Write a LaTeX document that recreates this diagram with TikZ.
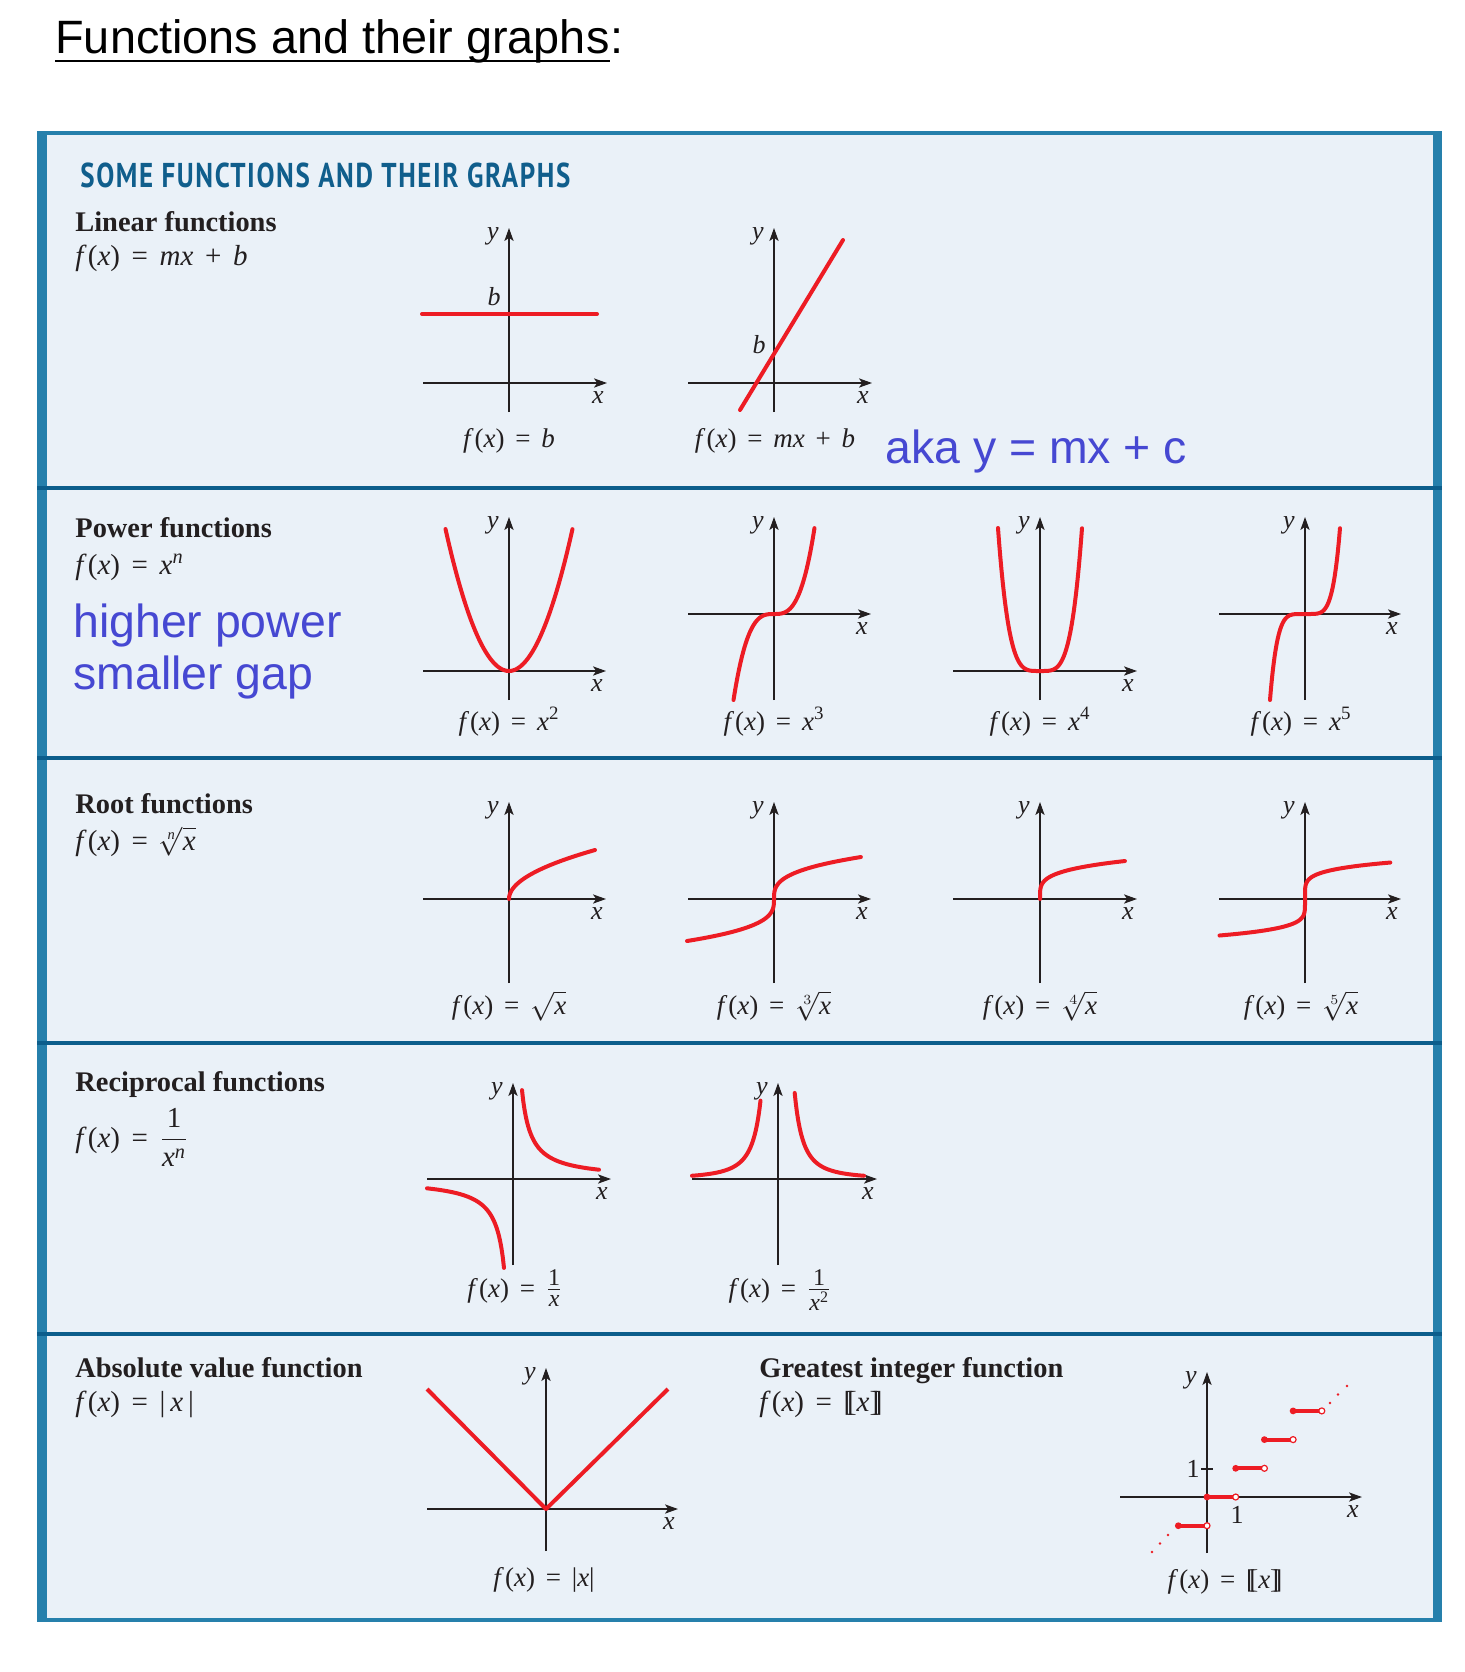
\documentclass[tikz,border=0pt]{standalone}
\usepackage{amsmath}
\usepackage{graphicx}
\usepackage{fontspec}
\setmainfont{Liberation Serif}
\newfontfamily\arialf{Liberation Sans}
\newfontfamily\ptsans[LetterSpace=6]{PT Sans}
\usetikzlibrary{arrows.meta}
\definecolor{boxblue}{RGB}{38,128,172}
\definecolor{sepblue}{RGB}{12,94,140}
\definecolor{boxfill}{RGB}{234,241,248}
\definecolor{headblue}{RGB}{16,94,140}
\definecolor{fred}{RGB}{237,28,36}
\definecolor{noteblue}{RGB}{70,72,210}
\definecolor{ink}{RGB}{35,31,32}
\newcommand\fxx{\textit{f}\kern0.04em(\textit{x})}
\newcommand\eqq{\hspace{0.4em}=\hspace{0.4em}}
\newcommand\pluss{\hspace{0.4em}+\hspace{0.4em}}
\newcommand\dbr[1]{[\kern-0.22em[#1]\kern-0.22em]}
\newcommand\smfr[2]{$\frac{\hbox{\fontsize{12}{13}\selectfont #1}}{\hbox{\fontsize{12}{13}\selectfont #2}}$}
\newcommand\hdfont{\fontsize{14.2}{17}\selectfont\bfseries}
\newcommand\fmfont{\fontsize{14.5}{17}\selectfont}
\newcommand\capfont{\fontsize{13.5}{16}\selectfont}
\newcommand\lblfont{\fontsize{13}{15}\selectfont\itshape}
\newcommand\notefont{\arialf\fontsize{23.2}{27}\selectfont}
\newcommand\graxes[7]{%
  \draw[axis] (#4,#3) -- (#5,#3);
  \draw[axis] (#2,#7) -- (#2,#6);
  \node[lbl] (#1x) at (#5-9,#3+20) {x};
  \node[lbl] (#1y) at (#2-16,#6+11) {y};
}
\tikzset{
  axis/.style={line width=0.6pt, draw=ink, -{Stealth[length=6.5pt,width=4.6pt,inset=1.6pt]}},
  curve/.style={line width=2pt, draw=fred, line cap=round, line join=round},
  lbl/.style={font=\lblfont, text=ink, inner sep=0pt, anchor=base},
  capt/.style={font=\capfont, text=ink, inner sep=0pt, anchor=base},
  hd/.style={font=\hdfont, text=ink, inner sep=0pt, anchor=base west},
  fm/.style={font=\fmfont, text=ink, inner sep=0pt, anchor=base west},
  note/.style={font=\notefont, text=noteblue, inner sep=0pt, anchor=base west},
}
\begin{document}
\begin{tikzpicture}[x=0.5pt, y=-0.5pt]
\useasboundingbox (0,0) rectangle (1464,1672);
\fill[white] (0,0) rectangle (1464,1672);
% title
\node[anchor=base west, inner sep=0pt, font=\arialf\fontsize{23.4}{28}\selectfont] (title) at (55,53) {Functions and their graphs};
\node[anchor=base west, inner sep=0pt, font=\arialf\fontsize{23.4}{28}\selectfont] (colon) at (title.base east) {:};
\draw[line width=1.3pt] ([yshift=-4pt]title.base west) -- ([yshift=-4pt]title.base east);
% frame
\fill[boxblue] (37,131) rectangle (1442,1622);
\fill[boxfill] (47,135) rectangle (1433,1618);
\foreach \yy in {488,758,1043,1334} \draw[sepblue, line width=2pt] (37,\yy) -- (1442,\yy);
\node[anchor=base west, inner sep=0pt, text=headblue] (boxtitle) at (80,187) {\resizebox{245pt}{12.3pt}{\ptsans\bfseries SOME FUNCTIONS AND THEIR GRAPHS}};
% headers
\node[hd] (h1) at (75,231) {Linear functions};
\node[fm] (f1) at (75,265) {\fxx\eqq\textit{mx}\pluss\textit{b}};
\node[note] (n1) at (885,463) {aka y = mx + c};
\node[hd] (h2) at (75,537) {Power functions};
\node[fm] (f2) at (75,574) {\fxx\eqq\textit{x}\textsuperscript{\textit{n}}};
\node[note] (n2) at (73,637) {higher power};
\node[note] (n3) at (73,689) {smaller gap};
\node[hd] (h3) at (75,813) {Root functions};
\node[fm] (f3) at (75,850) {\fxx\eqq$\sqrt[\textit{n}]{\textit{x}}$};
\node[hd] (h4) at (75,1091) {Reciprocal functions};
\node[fm] (f4) at (75,1147) {\fxx\eqq$\dfrac{\text{1}}{\textit{x}^{\textit{n}}}$};
\node[hd] (h5) at (75,1377) {Absolute value function};
\node[fm] (f5) at (75,1411) {\fxx\eqq|\,\textit{x}\,|};
\node[hd] (h6) at (759,1377) {Greatest integer function};
\node[fm] (f6) at (759,1411) {\fxx\eqq\dbr{\textit{x}}};
% row 1
\graxes{la}{509}{383}{423}{607}{228}{412}
\draw[curve] (422,314) -- (597,314);
\node[lbl] (lab) at (494,305) {b};
\node[capt] (lac) at (509,447) {\fxx\eqq\textit{b}};
\graxes{lb}{774}{383}{688}{872}{228}{412}
\draw[curve] (740,410) -- (843,240);
\node[lbl] (lbb) at (759,353) {b};
\node[capt] (lbc) at (775,447) {\fxx\eqq\textit{mx}\pluss\textit{b}};
% row 2
\graxes{pa}{509}{671}{423}{606}{517}{700}
\draw[curve] plot[domain=-1:1, samples=61, smooth, variable=\t] ({509+63.5*\t},{671-142*\t*\t});
\node[capt] (pac) at (509,730) {\fxx\eqq\textit{x}\textsuperscript{2}};
\graxes{pb}{774}{614}{688}{871}{517}{700}
\draw[curve] plot[domain=-1:1, samples=61, smooth, variable=\t] ({774+40.5*\t},{614-86*\t*\t*\t});
\node[capt] (pbc) at (774,730) {\fxx\eqq\textit{x}\textsuperscript{3}};
\graxes{pc}{1040}{671}{953}{1137}{517}{700}
\draw[curve] plot[domain=-1:1, samples=81, smooth, variable=\t] ({1040+42*\t},{671-143*\t*\t*\t*\t});
\node[capt] (pcc) at (1040,730) {\fxx\eqq\textit{x}\textsuperscript{4}};
\graxes{pd}{1305}{614}{1219}{1401}{517}{700}
\draw[curve] plot[domain=-1:1, samples=81, smooth, variable=\t] ({1305+35*\t},{614-86*\t*\t*\t*\t*\t});
\node[capt] (pdc) at (1301,730) {\fxx\eqq\textit{x}\textsuperscript{5}};
% row 3
\graxes{ra}{509}{899}{423}{606}{802}{983}
\draw[curve] plot[domain=0:1, samples=41, smooth, variable=\t] ({509+86*\t*\t},{899-49*\t});
\node[capt] (rac) at (509,1014) {\fxx\eqq$\sqrt{\textit{x}}$};
\graxes{rb}{774}{899}{688}{871}{802}{983}
\draw[curve] plot[domain=-1:1, samples=61, smooth, variable=\t] ({774+87*\t*\t*\t},{899-42*\t});
\node[capt] (rbc) at (774,1014) {\fxx\eqq$\sqrt[3]{\textit{x}}$};
\graxes{rc}{1040}{899}{953}{1137}{802}{983}
\draw[curve] plot[domain=0:1, samples=41, smooth, variable=\t] ({1040+85*\t*\t*\t*\t},{899-38*\t});
\node[capt] (rcc) at (1040,1014) {\fxx\eqq$\sqrt[4]{\textit{x}}$};
\graxes{rd}{1305}{899}{1219}{1401}{802}{983}
\draw[curve] plot[domain=-1:1, samples=81, smooth, variable=\t] ({1305+85.5*\t*\t*\t*\t*\t},{899-36.5*\t});
\node[capt] (rdc) at (1301,1014) {\fxx\eqq$\sqrt[5]{\textit{x}}$};
% row 4
\graxes{ca}{513}{1179}{427}{611}{1083}{1265}
\draw[curve] plot[domain=9:86, samples=60, smooth, variable=\t] ({513+\t},{1179-800/\t});
\draw[curve] plot[domain=9:86, samples=60, smooth, variable=\t] ({513-\t},{1179+800/\t});
\node[capt] (cac) at (515,1297) {\fxx\eqq\smfr{1}{\textit{x}}};
\graxes{cb}{778}{1179}{692}{877}{1083}{1265}
\draw[curve] plot[domain=16.7:86, samples=60, smooth, variable=\t] ({778+\t},{1179-240/((\t/10)*(\t/10))});
\draw[curve] plot[domain=17.5:86, samples=60, smooth, variable=\t] ({778-\t},{1179-240/((\t/10)*(\t/10))});
\node[capt] (cbc) at (780,1297) {\fxx\eqq\smfr{1}{\textit{x}\textsuperscript{2}}};
% row 5
\graxes{aa}{546}{1509}{427}{678}{1368}{1551}
\draw[curve, line cap=butt] (427,1389) -- (546,1509) -- (668,1389);
\node[capt] (aac) at (544,1586) {\fxx\eqq|\textit{x}|};
\graxes{ga}{1207}{1497}{1120}{1362}{1372}{1553}
\draw[line width=0.6pt, draw=ink] (1201,1469) -- (1213,1469);
\node[capt, font=\fontsize{13}{15}\selectfont] (g1y) at (1193,1477) {1};
\node[capt, font=\fontsize{13}{15}\selectfont] (g1x) at (1237,1523) {1};
\foreach \k in {-1,...,3} {
  \draw[curve, line cap=butt] ({1207+28.7*\k},{1497-28.7*\k}) -- ({1207+28.7*(\k+1)},{1497-28.7*\k});
  \fill[fred] ({1207+28.7*\k},{1497-28.7*\k}) circle[radius=1.7pt];
  \draw[fred, fill=white, line width=0.6pt] ({1207+28.7*(\k+1)},{1497-28.7*\k}) circle[radius=1.5pt];
}
\foreach \px/\py in {1330/1403, 1338/1394.5, 1347/1386, 1168/1535, 1160/1543.5, 1152/1552}
  \fill[fred] (\px,\py) circle[radius=0.65pt];
\node[capt] (gac) at (1225,1588) {\fxx\eqq\dbr{\textit{x}}};
\end{tikzpicture}
\end{document}
